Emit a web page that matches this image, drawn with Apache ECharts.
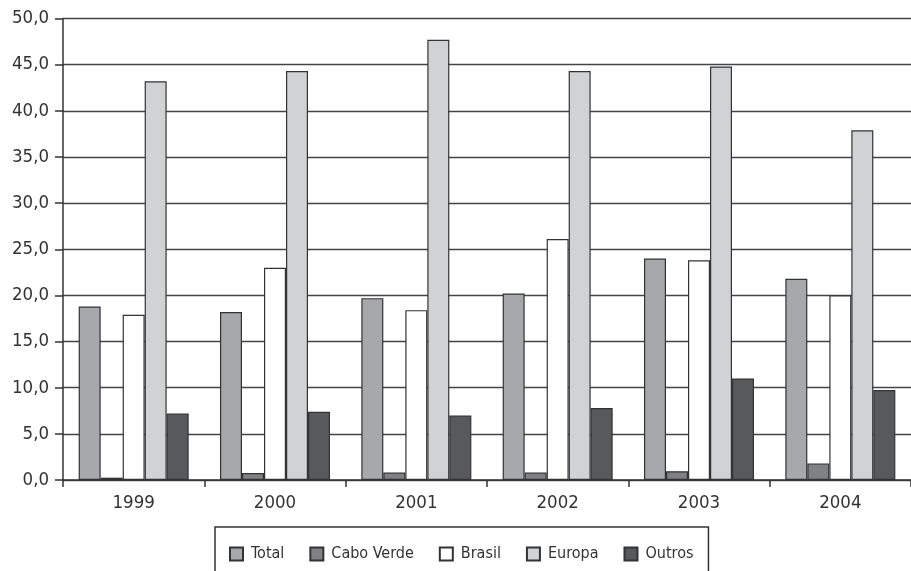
<!DOCTYPE html>
<html>
<head>
<meta charset="utf-8">
<script src="https://cdn.jsdelivr.net/npm/echarts@6/dist/echarts.min.js"></script>
<style>
html,body{margin:0;padding:0;background:#fff;}
#chart{width:911px;height:571px;}
</style>
</head>
<body>
<div id="chart"></div>
<script>
const categories = ['1999', '2000', '2001', '2002', '2003', '2004'];
const total = [18.8, 18.2, 19.7, 20.2, 24.0, 21.8];
const caboVerde = [0.25, 0.75, 0.8, 0.8, 0.95, 1.8];
const brasil = [17.9, 23.0, 18.4, 26.1, 23.8, 20.0];
const europa = [43.2, 44.3, 47.7, 44.3, 44.8, 37.9];
const outros = [7.2, 7.4, 7.0, 7.8, 11.0, 9.75];
const yTicks = [0, 5, 10, 15, 20, 25, 30, 35, 40, 45, 50];

const FONT = '"DejaVu Sans Condensed", "DejaVu Sans", sans-serif';
const INK = '#333333';

function mk(name, data, color) {
  return {
    name: name, type: 'bar', data: data,
    barWidth: 22, barGap: '0%',
    itemStyle: { color: color, borderColor: INK, borderWidth: 1.2 },
    emphasis: { disabled: true }
  };
}

const chart = echarts.init(document.getElementById('chart'));
chart.setOption({
  animation: false,
  backgroundColor: '#fff',
  textStyle: { fontFamily: FONT },
  grid: { left: 63, right: 0, top: 18.5, bottom: 91 },
  legend: {
    left: 215, top: 527,
    padding: [19, 15, 40, 14],
    borderColor: INK, borderWidth: 1.5,
    itemWidth: 13, itemHeight: 13, itemGap: 25, icon: 'rect',
    textStyle: { fontSize: 16, color: INK, fontFamily: FONT, padding: [0, 0, 0, 3] },
    data: ['Total', 'Cabo Verde', 'Brasil', 'Europa', 'Outros']
  },
  xAxis: {
    type: 'category', data: categories,
    axisLine: { lineStyle: { color: INK, width: 1.5 } },
    axisTick: { show: true, alignWithLabel: false, length: 7, lineStyle: { color: INK, width: 1.5 } },
    axisLabel: { color: INK, fontSize: 18.5, margin: 14, fontFamily: FONT },
    splitLine: { show: false }
  },
  yAxis: {
    type: 'value', min: yTicks[0], max: yTicks[yTicks.length - 1], interval: 5,
    axisLine: { show: true, lineStyle: { color: INK, width: 1.5 } },
    axisTick: { show: true, length: 8, lineStyle: { color: INK, width: 1.5 } },
    axisLabel: {
      color: INK, fontSize: 18.5, margin: 14, fontFamily: FONT,
      formatter: v => v.toFixed(1).replace('.', ',')
    },
    splitLine: { show: true, lineStyle: { color: '#444', width: 1.3 } }
  },
  series: [
    mk('Total', total, '#a7a8ab'),
    mk('Cabo Verde', caboVerde, '#808184'),
    mk('Brasil', brasil, '#ffffff'),
    mk('Europa', europa, '#d1d2d4'),
    mk('Outros', outros, '#58595b')
  ]
});
</script>
</body>
</html>
